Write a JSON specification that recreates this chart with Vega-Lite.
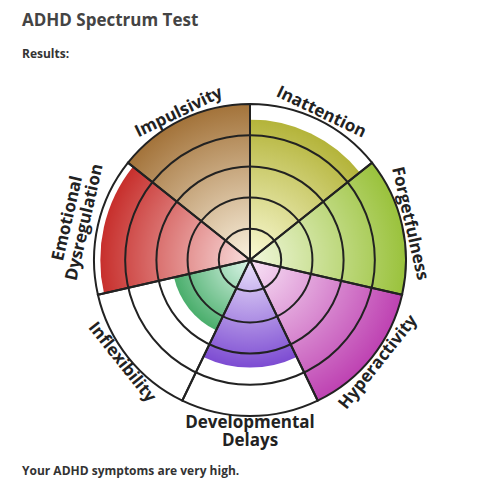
{
  "$schema": "https://vega.github.io/schema/vega-lite/v6.json",
  "autosize": "none",
  "padding": {"left": 0, "right": 0, "top": 36, "bottom": 0},
  "background": "white",
  "width": 500,
  "height": 448,
  "config": {"view": {"stroke": null}, "font": "Open Sans"},
  "title": {
    "text": "ADHD Spectrum Test",
    "subtitle": ["Results:", "Your ADHD symptoms are very high."],
    "orient": "top",
    "anchor": "start",
    "frame": "group",
    "dx": 22,
    "offset": -442,
    "font": "Open Sans",
    "fontSize": 17,
    "fontWeight": 700,
    "color": "#444444",
    "subtitleFont": "Open Sans",
    "subtitleFontSize": 12,
    "subtitleFontWeight": 700,
    "subtitleColor": "#333333",
    "subtitlePadding": 19,
    "subtitleLineHeight": 417
  },
  "datasets": {
    "sectors": [
      {"scale": "Inattention", "label": "Inattention", "idx": 0, "weight": 1, "score": 90},
      {"scale": "Forgetfulness", "label": "Forgetfulness", "idx": 1, "weight": 1, "score": 100},
      {"scale": "Hyperactivity", "label": "Hyperactivity", "idx": 2, "weight": 1, "score": 100},
      {"scale": "Developmental Delays", "label": "Developmental\nDelays", "idx": 3, "weight": 1, "score": 69},
      {"scale": "Inflexibility", "label": "Inflexibility", "idx": 4, "weight": 1, "score": 50},
      {"scale": "Emotional Dysregulation", "label": "Emotional\nDysregulation", "idx": 5, "weight": 1, "score": 96},
      {"scale": "Impulsivity", "label": "Impulsivity", "idx": 6, "weight": 1, "score": 100}
    ],
    "rings": [{"ring": 20}, {"ring": 40}, {"ring": 60}, {"ring": 80}]
  },
  "layer": [
    {
      "data": {"name": "sectors"},
      "transform": [{"stack": "weight", "groupby": [], "sort": [{"field": "idx", "order": "ascending"}], "as": ["t0", "t1"]}],
      "encoding": {
        "theta": {"field": "t0", "type": "quantitative", "scale": {"domain": [0, 7], "range": [0, 6.283185307179586]}},
        "theta2": {"field": "t1"},
        "radius": {"field": "score", "type": "quantitative", "scale": {"type": "linear", "domain": [0, 100], "range": [0, 156]}}
      },
      "layer": [
        {"transform": [{"filter": "datum.idx === 0"}], "mark": {"type": "arc", "fill": {"gradient": "radial", "x1": 0.1091, "y1": 1, "r1": 0, "x2": 0.1091, "y2": 1, "r2": 1, "stops": [{"offset": 0, "color": "#fbfbd6"}, {"offset": 1, "color": "#b4b43a"}]}}},
        {"transform": [{"filter": "datum.idx === 1"}], "mark": {"type": "arc", "fill": {"gradient": "radial", "x1": 0, "y1": 0.7005, "r1": 0, "x2": 0, "y2": 0.7005, "r2": 1, "stops": [{"offset": 0, "color": "#f1f8dc"}, {"offset": 1, "color": "#9ac23c"}]}}},
        {"transform": [{"filter": "datum.idx === 2"}], "mark": {"type": "arc", "fill": {"gradient": "radial", "x1": 0, "y1": 0.0379, "r1": 0, "x2": 0, "y2": 0.0379, "r2": 1.0257, "stops": [{"offset": 0, "color": "#f9e4f6"}, {"offset": 1, "color": "#be42b2"}]}}},
        {"transform": [{"filter": "datum.idx === 3"}], "mark": {"type": "arc", "fill": {"gradient": "radial", "x1": 0.5, "y1": 0, "r1": 0, "x2": 0.5, "y2": 0, "r2": 1, "stops": [{"offset": 0, "color": "#ebe3fb"}, {"offset": 1, "color": "#7d4cd2"}]}}},
        {"transform": [{"filter": "datum.idx === 4"}], "mark": {"type": "arc", "fill": {"gradient": "radial", "x1": 1, "y1": 0.0379, "r1": 0, "x2": 1, "y2": 0.0379, "r2": 1.0257, "stops": [{"offset": 0, "color": "#def6ea"}, {"offset": 1, "color": "#4aae6c"}]}}},
        {"transform": [{"filter": "datum.idx === 5"}], "mark": {"type": "arc", "fill": {"gradient": "radial", "x1": 1, "y1": 0.7005, "r1": 0, "x2": 1, "y2": 0.7005, "r2": 1, "stops": [{"offset": 0, "color": "#f9dddd"}, {"offset": 1, "color": "#c72f2c"}]}}},
        {"transform": [{"filter": "datum.idx === 6"}], "mark": {"type": "arc", "fill": {"gradient": "radial", "x1": 0.8909, "y1": 1, "r1": 0, "x2": 0.8909, "y2": 1, "r2": 1, "stops": [{"offset": 0, "color": "#fbf2e0"}, {"offset": 1, "color": "#a3733a"}]}}}
      ]
    },
    {
      "data": {"name": "rings"},
      "mark": {"type": "arc", "theta": 0, "theta2": 6.2832, "filled": false, "stroke": "#222222", "strokeWidth": 2},
      "encoding": {
        "radius": {"field": "ring", "type": "quantitative", "stack": null, "scale": {"type": "linear", "domain": [0, 100], "range": [0, 156]}}
      }
    },
    {
      "data": {"name": "sectors"},
      "transform": [{"stack": "weight", "groupby": [], "sort": [{"field": "idx", "order": "ascending"}], "as": ["t0", "t1"]}],
      "mark": {"type": "arc", "filled": false, "stroke": "#222222", "strokeWidth": 2},
      "encoding": {
        "theta": {"field": "t0", "type": "quantitative", "scale": {"domain": [0, 7], "range": [0, 6.283185307179586]}},
        "theta2": {"field": "t1"},
        "radius": {"datum": 100, "type": "quantitative"}
      }
    },
    {
      "data": {"name": "sectors"},
      "transform": [{"stack": "weight", "groupby": [], "sort": [{"field": "idx", "order": "ascending"}], "as": ["t0", "t1"]}],
      "encoding": {
        "theta": {"field": "t0", "type": "quantitative", "scale": {"domain": [0, 7], "range": [0, 6.283185307179586]}},
        "text": {"field": "label"},
        "angle": {"field": "scale", "type": "nominal", "legend": null, "scale": {"type": "ordinal", "domain": ["Inattention", "Forgetfulness", "Hyperactivity", "Developmental Delays", "Inflexibility", "Emotional Dysregulation", "Impulsivity"], "range": [25.7, 77.1, -51.4, 0, 51.4, -77.1, -25.7]}}
      },
      "layer": [
        {
          "transform": [{"filter": "datum.idx !== 3 && datum.idx !== 5"}],
          "mark": {"type": "text", "thetaOffset": 0.4488, "font": "Open Sans", "fontSize": 17, "fontWeight": 700, "align": "center", "baseline": "middle", "lineBreak": "\n", "lineHeight": 17.5, "fill": "#222222"},
          "encoding": {"radius": {"datum": 105.1, "type": "quantitative"}}
        },
        {
          "transform": [{"filter": "datum.idx === 3"}],
          "mark": {"type": "text", "thetaOffset": 0.4488, "font": "Open Sans", "fontSize": 17, "fontWeight": 700, "align": "center", "baseline": "middle", "lineBreak": "\n", "lineHeight": 17.5, "fill": "#222222"},
          "encoding": {"radius": {"datum": 104.6, "type": "quantitative"}}
        },
        {
          "transform": [{"filter": "datum.idx === 5"}],
          "mark": {"type": "text", "thetaOffset": 0.4488, "font": "Open Sans", "fontSize": 17, "fontWeight": 700, "align": "center", "baseline": "middle", "lineBreak": "\n", "lineHeight": 17.5, "fill": "#222222"},
          "encoding": {"radius": {"datum": 119.9, "type": "quantitative"}}
        }
      ]
    }
  ]
}
